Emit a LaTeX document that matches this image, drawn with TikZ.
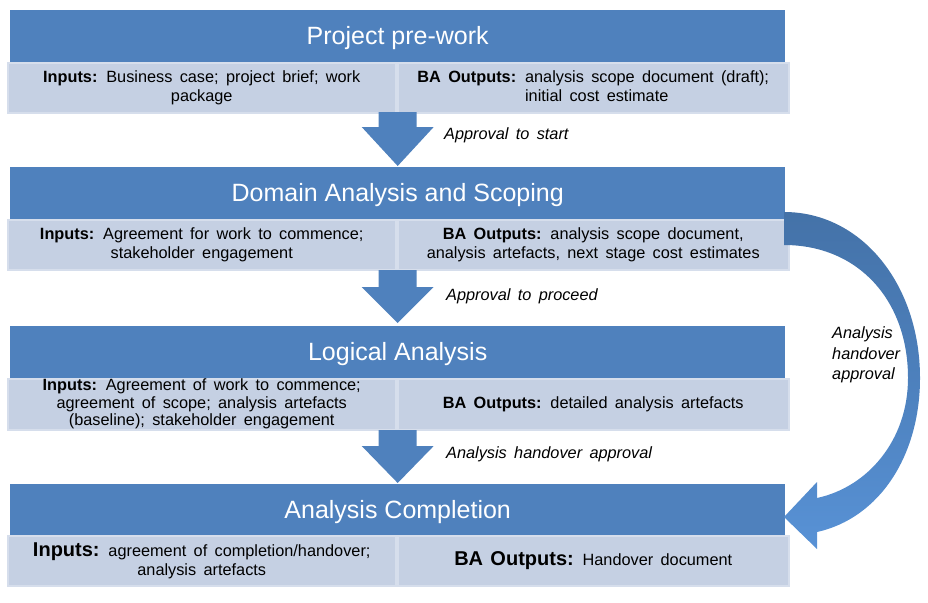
\documentclass[tikz,border=0pt]{standalone}
\usepackage{fontspec}
\setmainfont{Liberation Sans}
\definecolor{barblue}{RGB}{79,129,189}
\definecolor{cellfill}{RGB}{197,208,227}
\definecolor{celledge}{RGB}{214,222,236}
\definecolor{arcdark}{RGB}{68,114,168}
\definecolor{arclight}{RGB}{88,146,214}
\newcommand\widesp{\spaceskip=0.45em plus 0.1em\relax}
\tikzset{
  bar/.style={fill=barblue, draw=none, inner sep=0pt, minimum width=775pt, minimum height=52pt, anchor=north west,
    text=white, font={\fontsize{25}{30}\selectfont}, text height=21pt, text depth=5pt},
  cell/.style={fill=cellfill, draw=celledge, line width=1.5pt, inner sep=0pt, minimum height=50pt, anchor=north west,
    align=center, font={\fontsize{16.3}{18.5}\selectfont\widesp}},
  lab/.style={font={\fontsize{16.3}{20.5}\selectfont\itshape\widesp}, anchor=west, inner sep=0pt},
  downarrow/.style={fill=barblue}
}
\begin{document}
\begin{tikzpicture}[x=1pt,y=-1pt]
\useasboundingbox (0,0) rectangle (928,602);

% title bars
\node[bar] (b1) at (10,10) {Project pre-work};
\node[bar] (b2) at (10,167) {Domain Analysis and Scoping};
\node[bar] (b3) at (10,326) {Logical Analysis};
\node[bar] (b4) at (10,484) {Analysis Completion};

% cells
\node[cell, minimum width=388pt] (c1l) at (7,62) {\textbf{Inputs:} Business case; project brief; work\\package};
\node[cell, minimum width=391pt, align=left] (c1r) at (397,62) {\textbf{BA Outputs:} analysis scope document (draft);\\\phantom{\textbf{BA Outputs:} }initial cost estimate};

\node[cell, minimum width=388pt] (c2l) at (7,219) {\textbf{Inputs:} Agreement for work to commence;\\stakeholder engagement};
\node[cell, minimum width=391pt] (c2r) at (397,219) {\textbf{BA Outputs:} analysis scope document,\\analysis artefacts, next stage cost estimates};

\node[cell, minimum width=388pt, minimum height=51pt, font={\fontsize{16.3}{17.5}\selectfont\widesp}] (c3l) at (7,378) {\textbf{Inputs:} Agreement of work to commence;\\agreement of scope; analysis artefacts\\(baseline); stakeholder engagement};
\node[cell, minimum width=391pt, minimum height=51pt] (c3r) at (397,378) {\textbf{BA Outputs:} detailed analysis artefacts};

\node[cell, minimum width=388pt] (c4l) at (7,535) {{\fontsize{20}{22}\selectfont\textbf{Inputs:}} agreement of completion/handover;\\analysis artefacts};
\node[cell, minimum width=391pt] (c4r) at (397,535) {{\fontsize{20}{22}\selectfont\textbf{BA Outputs:}} Handover document};

% down arrows
\fill[downarrow] (b2.north) ++(0,-1) -- ++(-36,-39) -- ++(17,0) -- ++(0,-15) -- ++(38,0) -- ++(0,15) -- ++(17,0) -- cycle;
\fill[downarrow] (b3.north) ++(0,-3) -- ++(-36,-36) -- ++(17,0) -- ++(0,-17) -- ++(38,0) -- ++(0,17) -- ++(17,0) -- cycle;
\fill[downarrow] (b4.north) ++(0,-1) -- ++(-36,-37) -- ++(17,0) -- ++(0,-16) -- ++(38,0) -- ++(0,16) -- ++(17,0) -- cycle;

% arrow labels
\node[lab] (l1) at (444,135) {Approval to start};
\node[lab] (l2) at (446,296) {Approval to proceed};
\node[lab] (l3) at (446,454) {Analysis handover approval};

% curved arrow
\shade[top color=arcdark, bottom color=arclight, middle color=arcdark!55!arclight]
  (784,212) .. controls (862,212) and (920,285) .. (920,378)
  .. controls (920,455) and (880,518) .. (817,532)
  -- (817,549) -- (784,517) -- (817,482) -- (817,498)
  .. controls (868,487) and (908,440) .. (908,378)
  .. controls (908,300) and (858,245) .. (784,245) -- cycle;

\node[lab, align=left] (hl) at (832,355) {Analysis\\handover\\approval};
\end{tikzpicture}
\end{document}
